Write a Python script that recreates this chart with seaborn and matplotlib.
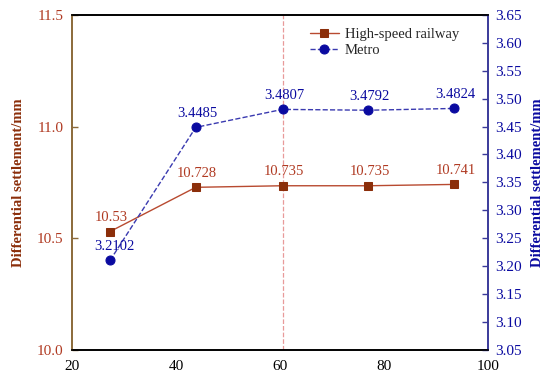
import matplotlib
matplotlib.use("Agg")
import matplotlib.pyplot as plt
import seaborn as sns
import pandas as pd

# ── Data ─────────────────────────────────────────────────────────────────────
x_vals    = [27.3, 43.8, 60.5, 77.0, 93.5]
hsr_vals  = [10.53, 10.728, 10.735, 10.735, 10.741]
hsr_text  = ["10.53", "10.728", "10.735", "10.735", "10.741"]
met_vals  = [3.2102, 3.4485, 3.4807, 3.4792, 3.4824]
met_text  = ["3.2102", "3.4485", "3.4807", "3.4792", "3.4824"]
x_ticks   = [20, 40, 60, 80, 100]
left_ticks  = [10.0, 10.5, 11.0, 11.5]
right_ticks = [3.05, 3.10, 3.15, 3.20, 3.25, 3.30, 3.35, 3.40, 3.45, 3.50, 3.55, 3.60, 3.65]
vline_x = 60.5

df_hsr = pd.DataFrame({"x": x_vals, "y": hsr_vals})
df_met = pd.DataFrame({"x": x_vals, "y": met_vals})

# ── Style ────────────────────────────────────────────────────────────────────
sns.set_style("white")
plt.rcParams['font.family'] = ['Liberation Serif', 'DejaVu Serif']
plt.rcParams['font.size'] = 11

LINE_R = "#B84A30"
MARK_R = "#8B2E0A"
TEXT_R = "#B03A22"
NAVY   = "#0A0AA0"
LINE_B = "#3A3AB0"
SPINE_L = "#8B6A3A"
SPINE_R = "#3A3A9A"

fig = plt.figure(figsize=(5.5, 3.8), dpi=100)
ax = fig.add_axes([0.131, 0.079, 0.756, 0.882])
ax2 = ax.twinx()

sns.lineplot(data=df_hsr, x="x", y="y", ax=ax, color=LINE_R, lw=1.0,
             marker="s", markersize=6, markerfacecolor=MARK_R,
             markeredgecolor=MARK_R, label="High-speed railway", legend=False)
sns.lineplot(data=df_met, x="x", y="y", ax=ax2, color=LINE_B, lw=1.0,
             linestyle="--", marker="o", markersize=6.5, markerfacecolor=NAVY,
             markeredgecolor=NAVY, label="Metro", legend=False)

ax.axvline(vline_x, color="#E89A9A", lw=0.9, ls="--", zorder=0)

for xv, yv, t in zip(x_vals, hsr_vals, hsr_text):
    ax.annotate(t, (xv, yv), xytext=(1, 10), textcoords="offset points",
                ha="center", va="center", color=TEXT_R, fontsize=10.5)
for i, (xv, yv, t) in enumerate(zip(x_vals, met_vals, met_text)):
    dx = 3 if i == 0 else 1
    ax2.annotate(t, (xv, yv), xytext=(dx, 10), textcoords="offset points",
                 ha="center", va="center", color=NAVY, fontsize=10.5)

# ── Axes ─────────────────────────────────────────────────────────────────────
ax.set_xlim(20, 100)
ax.set_ylim(10.0, 11.5)
ax2.set_ylim(3.05, 3.65)
ax.set_xticks(x_ticks)
ax.set_yticks(left_ticks)
ax2.set_yticks(right_ticks)
ax.set_yticklabels([f"{v:.1f}" for v in left_ticks])
ax2.set_yticklabels([f"{v:.2f}" for v in right_ticks])
ax.set_xlabel("")
ax.set_ylabel("Differential settlement/mm", color=MARK_R, fontweight="bold",
              fontsize=10.5, labelpad=9)
ax2.set_ylabel("Differential settlement/mm", color=NAVY, fontweight="bold",
               fontsize=10.5, labelpad=7)

ax.tick_params(axis="x", direction="in", length=4, width=1, colors="black",
               pad=7, labelsize=11)
ax.tick_params(axis="y", direction="in", length=4, width=1, colors=SPINE_L,
               labelcolor=TEXT_R, pad=6, labelsize=11)
ax2.tick_params(axis="y", direction="in", length=4, width=1, colors=SPINE_R,
                labelcolor=NAVY, pad=5, labelsize=11)

for a in (ax, ax2):
    for s in a.spines.values():
        s.set_visible(True)
        s.set_linewidth(1.2)
        s.set_color("black")
ax.spines["left"].set_color(SPINE_L)
ax2.spines["left"].set_color(SPINE_L)
ax2.spines["right"].set_color(SPINE_R)
ax.spines["right"].set_color(SPINE_R)

h1, l1 = ax.get_legend_handles_labels()
h2, l2 = ax2.get_legend_handles_labels()
ax2.legend(h1 + h2, l1 + l2, loc="upper left", bbox_to_anchor=(0.54, 1.0),
           frameon=False, fontsize=10.5, handlelength=2.0, handletextpad=0.4,
           labelspacing=0.2)

fig.savefig("out.png", dpi=100)
